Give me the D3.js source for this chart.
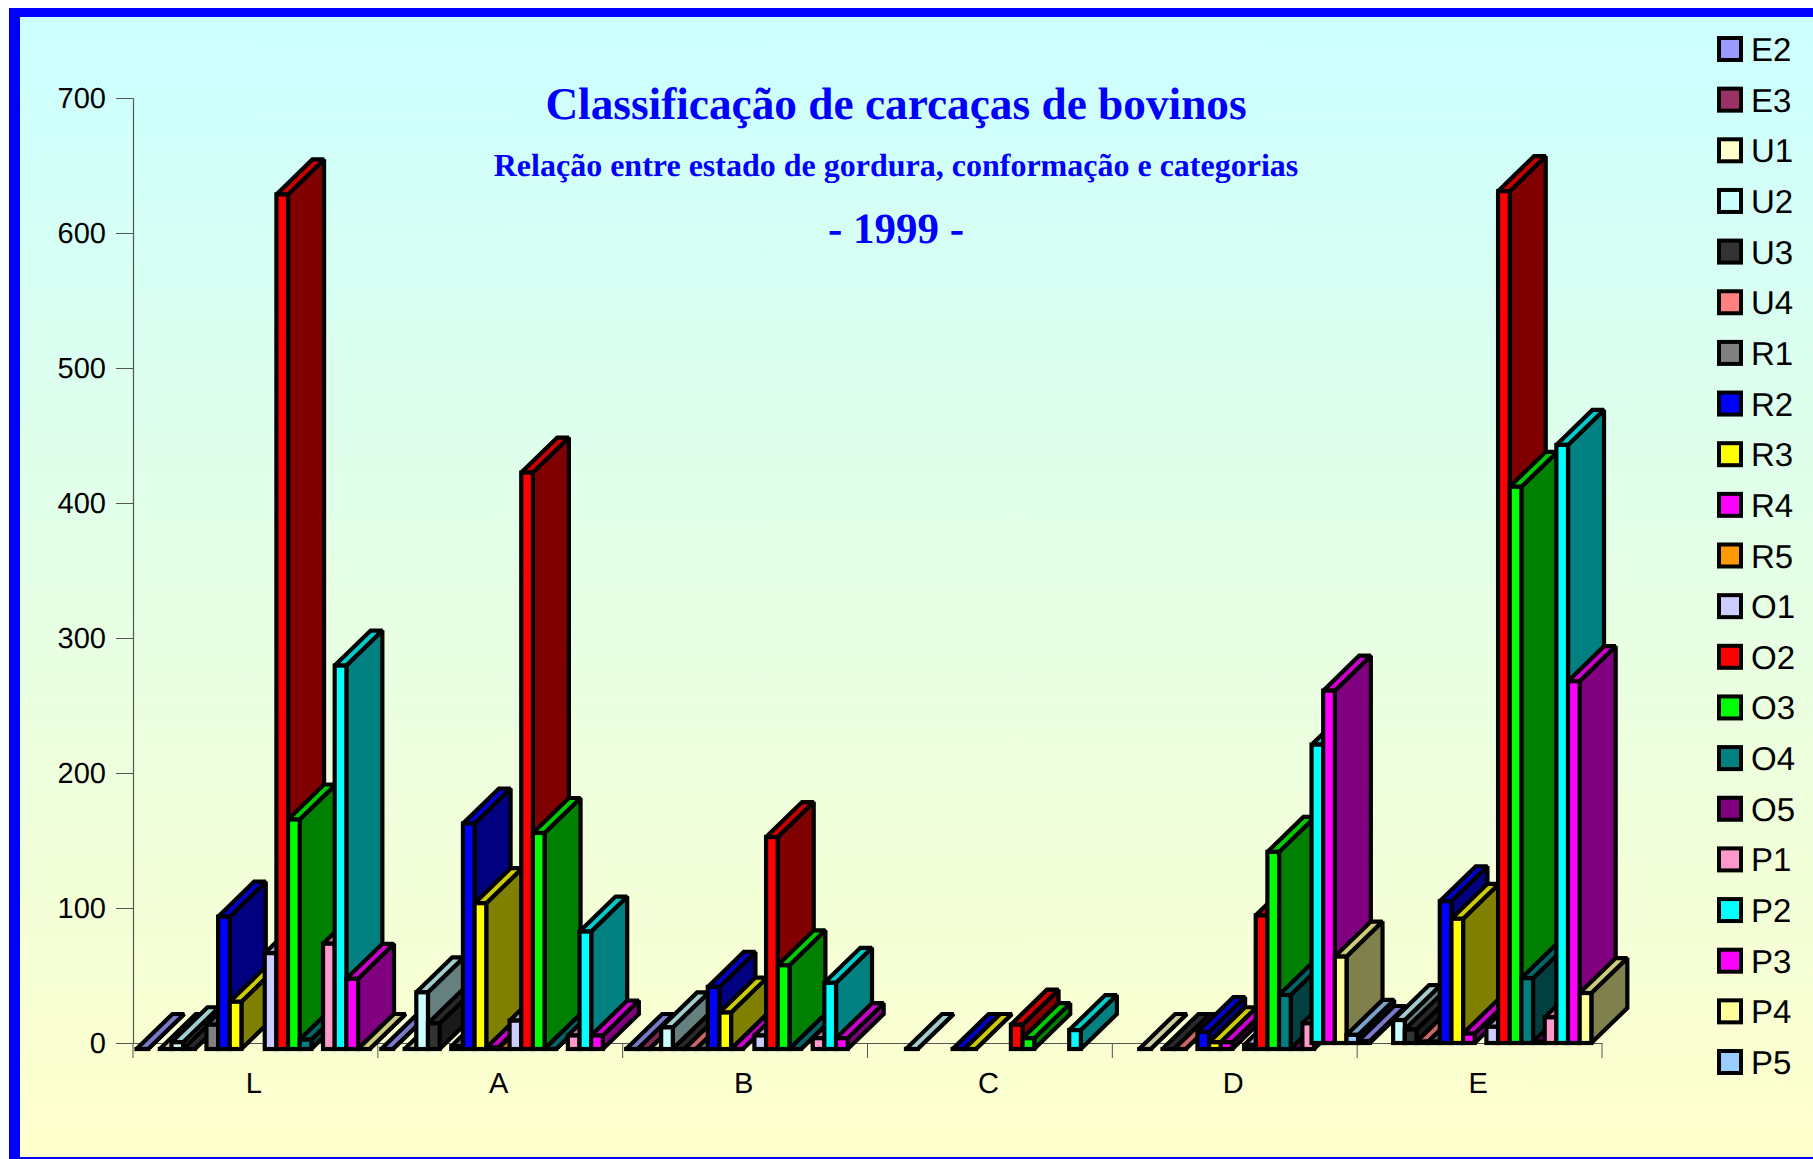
<!DOCTYPE html>
<html><head><meta charset="utf-8">
<script src="https://cdnjs.cloudflare.com/ajax/libs/d3/7.8.5/d3.min.js"></script>
<style>html,body{margin:0;padding:0;background:#fff;overflow:hidden}svg{display:block;text-rendering:geometricPrecision}</style>
</head><body><div id="chart"></div>
<script>
const categories = ["L","A","B","C","D","E"];
const yTicks = [0,100,200,300,400,500,600,700];
const seriesNames = ["E2","E3","U1","U2","U3","U4","R1","R2","R3","R4","R5","O1","O2","O3","O4","O5","P1","P2","P3","P4","P5"];
const seriesColors = ["#9999FF","#993366","#FFFFCC","#CCFFFF","#333333","#FF8080","#808080","#0000FF","#FFFF00","#FF00FF","#FF9900","#CCCCFF","#FF0000","#00FF00","#008080","#800080","#FF99CC","#00FFFF","#FF00FF","#FFFF99","#99CCFF"];
// values per category L, A, B, C, D, E (null = no bar)
const E2 = [0,0,0,null,null,1.5];
const E3 = [null,null,0,null,null,null];
const U1 = [0,0,0,null,0,null];
const U2 = [5,42,16,0,null,17];
const U3 = [0,19,0,null,0,10];
const U4 = [null,null,0,null,0,1];
const R1 = [18,2,0,null,null,1];
const R2 = [98,167,46,0,12.6,105];
const R3 = [35,108,27,0,5,92];
const R4 = [null,1,0,null,5,7];
const R5 = [null,0,null,null,null,null];
const O1 = [71,21,10,null,3,12];
const O2 = [633,427,157,18,99,631];
const O3 = [170,160,62,8,146,412];
const O4 = [7,0,0,null,40,48];
const O5 = [null,null,null,null,0,1];
const P1 = [78,10,8,null,19,19];
const P2 = [284,87,49,14,221,443];
const P3 = [52,10,8,null,261,268];
const P4 = [0,null,null,null,64,37];
const P5 = [null,null,null,null,6,null];
const seriesValues = [E2,E3,U1,U2,U3,U4,R1,R2,R3,R4,R5,O1,O2,O3,O4,O5,P1,P2,P3,P4,P5];

const W = 1813, H = 1159;
const svg = d3.select("#chart").append("svg").attr("width",W).attr("height",H);
const defs = svg.append("defs");
const grad = defs.append("linearGradient").attr("id","bg").attr("x1",0).attr("x2",0).attr("y1",0).attr("y2",1);
grad.append("stop").attr("offset","0%").attr("stop-color","#CCFFFF");
grad.append("stop").attr("offset","100%").attr("stop-color","#FFFFCC");

// frame
svg.append("rect").attr("x",9).attr("y",8).attr("width",W-9).attr("height",H-8).attr("fill","#0000FF");
svg.append("rect").attr("x",20).attr("y",17).attr("width",W-20).attr("height",1157-17).attr("fill","url(#bg)");

const y = d3.scaleLinear().domain([0,700]).range([1043,98]);
const x0 = d3.scaleBand().domain(categories).range([133,1602]).padding(0);
const x1 = d3.scaleBand().domain(seriesNames).range([3.5,x0.bandwidth()+3.5]).padding(0);
const axisColor = "#555";
const tickFont = "'Liberation Sans',Arial,sans-serif";

// y axis
const yAxis = svg.append("g").attr("transform","translate(133,0)")
  .call(d3.axisLeft(y).tickValues(yTicks).tickSize(17).tickPadding(10).tickSizeOuter(0));
yAxis.selectAll("line").attr("stroke",axisColor).attr("stroke-width",1);
yAxis.select(".domain").attr("stroke",axisColor).attr("stroke-width",1.2);
yAxis.selectAll("text").attr("font-family",tickFont).attr("font-size",29).attr("fill","#000");

// x axis
const xAxis = svg.append("g").attr("transform","translate(0,1043)")
  .call(d3.axisBottom(x0).tickSize(0).tickPadding(0).tickSizeOuter(0));
xAxis.select(".domain").attr("stroke",axisColor).attr("stroke-width",1.2);
xAxis.selectAll("text").attr("font-family",tickFont).attr("font-size",29).attr("fill","#000").attr("dy",null).attr("y",50).attr("x",-1.5);
svg.append("g").selectAll("line").data(categories.concat(["end"])).join("line")
  .attr("x1",d=> d==="end" ? x0.range()[1] : x0(d)).attr("x2",d=> d==="end" ? x0.range()[1] : x0(d))
  .attr("y1",1043).attr("y2",1058).attr("stroke",axisColor).attr("stroke-width",1);

// 3D bars, drawn left to right
const depthX = 36, depthY = 35, lowBase = 6, raisedShiftX = -2.5;
const bars = [];
categories.forEach((c,ci)=>{
  seriesNames.forEach((s,si)=>{
    const v = seriesValues[si][ci];
    if (v===null) return;
    bars.push({c,ci,s,si,v});
  });
});
const barG = svg.append("g").attr("stroke","#000").attr("stroke-width",4.2).attr("stroke-linejoin","miter").attr("stroke-miterlimit",2);
const poly = pts => pts.map(p=>p.join(",")).join(" ");
bars.forEach(b=>{
  const color = d3.rgb(seriesColors[b.si]);
  const shade = k => d3.rgb(color.r*k,color.g*k,color.b*k).formatHex();
  const raised = b.ci>4 || (b.ci===4 && b.si>=17);
  const shift = raised ? 0 : lowBase;
  const xl = x0(b.c)+x1(b.s)+(raised?raisedShiftX:0), xr = xl+x1.bandwidth();
  const yt = y(b.v)+shift, yb = y(0)+shift;
  const g = barG.append("g");
  g.append("polygon").attr("fill",shade(0.5))
    .attr("points",poly([[xr,yb],[xr+depthX,yb-depthY],[xr+depthX,yt-depthY],[xr,yt]]));
  g.append("polygon").attr("fill",shade(0.8))
    .attr("points",poly([[xl,yt],[xl+depthX,yt-depthY],[xr+depthX,yt-depthY],[xr,yt]]));
  g.append("rect").attr("x",xl).attr("y",yt).attr("width",xr-xl).attr("height",Math.max(yb-yt,0.01)).attr("fill",color.formatHex());
});

// titles
const titleFont = "'Liberation Serif','Times New Roman',serif";
const titleLines = [["Classificação de carcaças de bovinos",119,45.3],["Relação entre estado de gordura, conformação e categorias",176,32],["- 1999 -",243,43]];
svg.append("g").selectAll("text").data(titleLines).join("text")
  .attr("x",896).attr("y",d=>d[1]).attr("font-size",d=>d[2]).text(d=>d[0])
  .attr("text-anchor","middle").attr("font-family",titleFont).attr("font-weight","bold").attr("fill","#0000FF");

// legend
const legY = d3.scalePoint().domain(seriesNames).range([49,1062]);
const leg = svg.append("g").selectAll("g").data(seriesNames).join("g").attr("transform",d=>`translate(0,${legY(d)})`);
leg.append("rect").attr("x",1719).attr("y",-11).attr("width",22).attr("height",22)
  .attr("fill",(d,i)=>seriesColors[i]).attr("stroke","#000").attr("stroke-width",4);
leg.append("text").attr("x",1751).attr("y",12).text(d=>d)
  .attr("font-family",tickFont).attr("font-size",33).attr("fill","#000");
</script></body></html>
